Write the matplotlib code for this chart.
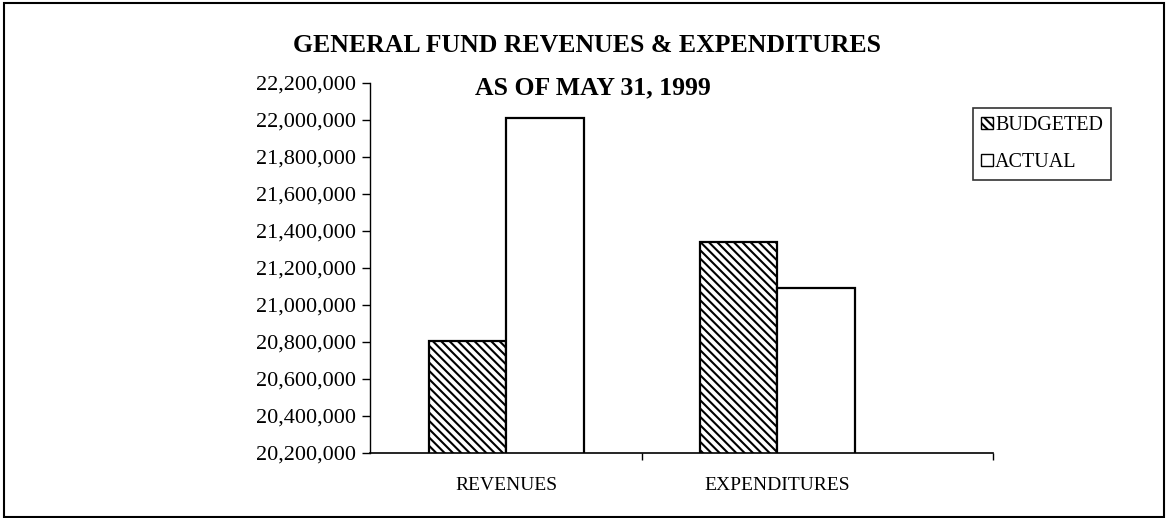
import matplotlib
matplotlib.use("Agg")
import matplotlib.pyplot as plt
from matplotlib.patches import Rectangle, Patch
from matplotlib.ticker import FuncFormatter
import numpy as np

categories = ["REVENUES", "EXPENDITURES"]
budgeted = [20807000, 21340500]
actual = [22009000, 21092000]
series_names = ["BUDGETED", "ACTUAL"]
yticks = list(range(20200000, 22200001, 200000))
title1 = "GENERAL FUND REVENUES & EXPENDITURES"
title2 = "AS OF MAY 31, 1999"

plt.rcParams['font.family'] = ['Liberation Serif', 'DejaVu Serif']
plt.rcParams['hatch.linewidth'] = 1.5

W, H = 1167, 518
fig = plt.figure(figsize=(W / 100, H / 100), dpi=100)
ax = fig.add_axes([370 / W, 1 - 453 / H, (993 - 370) / W, (453 - 83) / H])

x = np.arange(len(categories))
bw = 0.286
ax.bar(x - bw / 2, budgeted, bw, color='white', edgecolor='black',
       hatch='\\\\\\\\', linewidth=1.6, label=series_names[0])
ax.bar(x + bw / 2, actual, bw, color='white', edgecolor='black',
       linewidth=1.6, label=series_names[1])

ax.set_ylim(yticks[0], yticks[-1])
ax.set_xlim(-0.502, 1.797)
ax.set_yticks(yticks)
ax.yaxis.set_major_formatter(FuncFormatter(lambda v, p: f"{v:,.0f}"))
ax.tick_params(axis='y', direction='out', length=6, width=1, pad=4, labelsize=16)
ax.set_xticks(x)
ax.set_xticklabels(categories)
ax.tick_params(axis='x', which='major', length=0, pad=17, labelsize=14)
ax.set_xticks([0.5, 1.797], minor=True)
ax.tick_params(axis='x', which='minor', direction='out', length=5, width=1)
for s in ['top', 'right']:
    ax.spines[s].set_visible(False)
ax.spines['left'].set_linewidth(1)
ax.spines['bottom'].set_linewidth(1.2)

fig.text(293 / W, 1 - 45 / H, title1, ha='left', va='center', fontsize=18.5, fontweight='bold')
fig.text(475 / W, 1 - 88 / H, title2, ha='left', va='center', fontsize=18.5, fontweight='bold')

handles = [Patch(facecolor='white', edgecolor='black', hatch='\\\\\\\\', linewidth=1),
           Patch(facecolor='white', edgecolor='black', linewidth=1)]
leg = fig.legend(handles, series_names, loc='upper right',
                 bbox_to_anchor=(1111 / W, 1 - 108 / H), bbox_transform=fig.transFigure,
                 fontsize=14.5, frameon=True, fancybox=False, edgecolor='black',
                 handlelength=0.6, handleheight=0.6, handletextpad=0.1,
                 labelspacing=0.9, borderpad=0.4, borderaxespad=0)
leg.get_frame().set_linewidth(1.2)

fig.patches.append(Rectangle((4 / W, 1 / H), (1164 - 4) / W, (515 - 1) / H,
                             transform=fig.transFigure, fill=False,
                             edgecolor='black', linewidth=1.5))

fig.savefig("out.png", dpi=100)
